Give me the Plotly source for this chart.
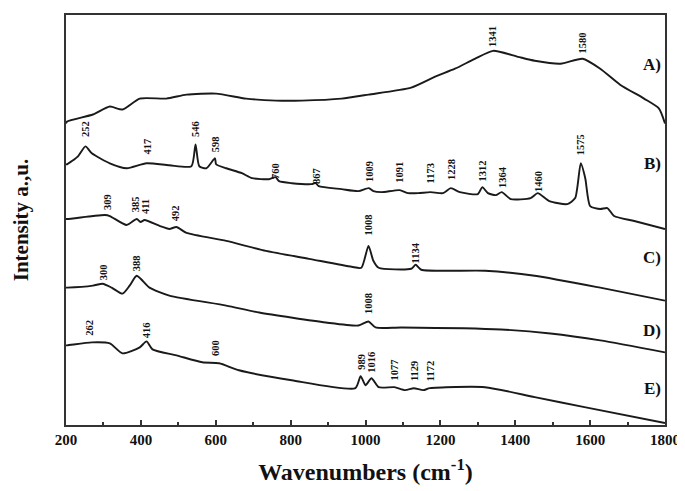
import plotly.graph_objects as go

# Wavenumbers (cm^-1) and intensities (a.u.)
a_wn = [200, 203, 272, 317, 351, 397, 468, 522, 601, 681, 761, 830, 936, 1008, 1122, 1186, 1239, 1292, 1341, 1407, 1452, 1521, 1580, 1627, 1680, 1744, 1784, 1800]
a_int = [303, 305, 312, 320, 317, 328, 328, 332, 333, 328, 326, 326, 328, 332, 339, 350, 358, 368, 376, 370, 366, 363, 368, 358, 342, 328, 318, 303]

b_wn = [200, 203, 232, 252, 269, 317, 362, 415, 476, 535, 546, 556, 575, 598, 601, 628, 670, 697, 742, 760, 769, 803, 856, 867, 875, 936, 981, 1009, 1021, 1043, 1091, 1114, 1141, 1173, 1207, 1228, 1252, 1300, 1312, 1327, 1348, 1364, 1388, 1441, 1460, 1491, 1539, 1560, 1575, 1587, 1600, 1627, 1646, 1664, 1718, 1800]
b_int = [262, 262, 270, 280, 273, 263, 258, 263, 261, 260, 282, 260, 258, 268, 262, 258, 253, 248, 247, 249, 245, 243, 242, 243, 240, 237, 235, 238, 235, 234, 236, 233, 233, 234, 233, 238, 234, 232, 239, 233, 231, 234, 227, 228, 233, 225, 222, 228, 263, 248, 220, 217, 218, 210, 205, 197]

c_wn = [200, 203, 272, 304, 317, 362, 389, 399, 410, 450, 476, 495, 522, 628, 734, 849, 963, 989, 1008, 1021, 1035, 1122, 1134, 1149, 1319, 1452, 1627, 1800]
c_int = [207, 207, 210, 211, 210, 201, 207, 204, 206, 200, 197, 199, 193, 185, 175, 167, 159, 158, 180, 165, 158, 157, 161, 156, 155, 150, 138, 125]

d_wn = [200, 203, 272, 298, 322, 351, 370, 389, 423, 476, 628, 716, 894, 981, 1008, 1027, 1096, 1362, 1494, 1627, 1800]
d_int = [138, 138, 140, 142, 138, 132, 140, 150, 138, 130, 120, 113, 103, 100, 104, 98, 98, 96, 92, 85, 73]

e_wn = [200, 203, 269, 317, 351, 397, 415, 431, 495, 564, 609, 662, 803, 973, 987, 1000, 1016, 1035, 1077, 1106, 1129, 1154, 1172, 1319, 1452, 1585, 1800]
e_int = [80, 80, 83, 82, 72, 78, 84, 76, 70, 63, 62, 55, 45, 37, 49, 40, 47, 38, 38, 35, 37, 35, 37, 38, 28, 18, 2]

series = [("A)", a_wn, a_int, 362), ("B)", b_wn, b_int, 263), ("C)", c_wn, c_int, 168),
          ("D)", d_wn, d_int, 95), ("E)", e_wn, e_int, 37)]

# Peak labels: (wavenumber, label height in a.u.)
peak_labels = [
    (1341, 390), (1580, 384),
    (252, 298), (417, 280), (546, 297), (598, 282), (760, 255), (867, 250), (1009, 255),
    (1091, 254), (1173, 253), (1228, 257), (1312, 255), (1364, 249), (1460, 245), (1575, 282),
    (309, 224), (385, 222), (411, 220), (492, 213), (1008, 201), (1134, 173),
    (300, 154), (388, 163), (1008, 122),
    (262, 98), (416, 95), (600, 77), (989, 64), (1016, 63), (1077, 55), (1129, 54), (1172, 54),
]

x_ticks = [200, 400, 600, 800, 1000, 1200, 1400, 1600, 1800]

serif = "Liberation Serif, Times New Roman, serif"

fig = go.Figure()
for name, wn, inten, _ in series:
    fig.add_trace(go.Scatter(x=wn, y=inten, mode="lines", name=name,
                             line=dict(color="#1a1a1a", width=1.9, shape="spline", smoothing=0.6),
                             showlegend=False))

for wn, h in peak_labels:
    fig.add_annotation(x=wn, y=h, text="<b>%d</b>" % wn, showarrow=False, textangle=-90,
                       xanchor="center", yanchor="middle",
                       font=dict(family=serif, size=10.5, color="#111"))

for name, _, _, h in series:
    fig.add_annotation(x=1795, y=h, text="<b>%s</b>" % name, showarrow=False,
                       xanchor="right", yanchor="middle",
                       font=dict(family=serif, size=17, color="#111"))

# the page body adds an 8px margin; size the figure so it fits the window
fig.update_layout(
    width=677, height=483,
    margin=dict(l=58, r=17, t=5, b=66),
    paper_bgcolor="white", plot_bgcolor="white",
    font=dict(family=serif, color="#111"),
)
fig.update_xaxes(range=[200, 1800], tickvals=x_ticks,
                 ticktext=["<b>%d</b>" % v for v in x_ticks],
                 tickfont=dict(family=serif, size=15, color="#111"),
                 ticks="inside", ticklen=5, tickwidth=1.5, tickcolor="#333",
                 minor=dict(dtick=100, ticks="inside", ticklen=3, tickcolor="#333"),
                 showline=True, linecolor="#333", linewidth=2, mirror=True,
                 showgrid=False, zeroline=False,
                 title=dict(text="<b>Wavenumbers (cm<sup>-1</sup>)</b>",
                            font=dict(family=serif, size=24, color="#111"), standoff=16))
fig.update_yaxes(range=[0, 412], showticklabels=False, ticks="",
                 showline=True, linecolor="#333", linewidth=2, mirror=True,
                 showgrid=False, zeroline=False,
                 title=dict(text="<b>Intensity a.,u.</b>",
                            font=dict(family=serif, size=21, color="#111"), standoff=30))

fig.write_html("out.html")
